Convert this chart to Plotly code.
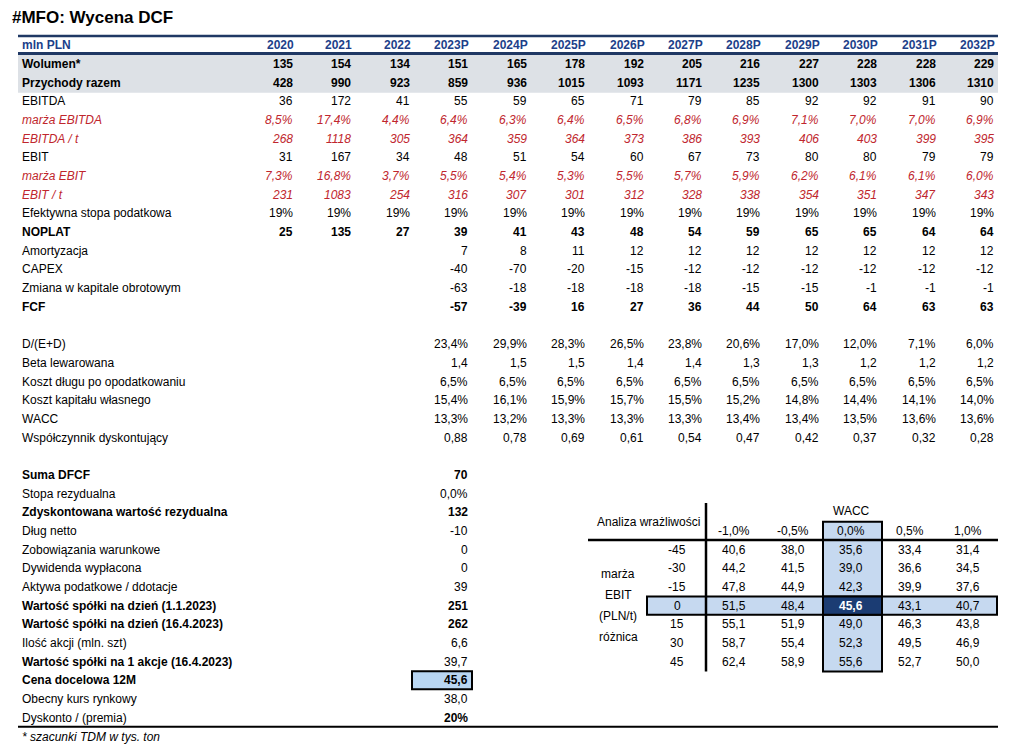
import plotly.graph_objects as go

# ---------------- data ----------------
years = ["2020", "2021", "2022", "2023P", "2024P", "2025P", "2026P", "2027P",
         "2028P", "2029P", "2030P", "2031P", "2032P"]
wolumen = [135, 154, 134, 151, 165, 178, 192, 205, 216, 227, 228, 228, 229]
przychody = [428, 990, 923, 859, 936, 1015, 1093, 1171, 1235, 1300, 1303, 1306, 1310]
ebitda = [36, 172, 41, 55, 59, 65, 71, 79, 85, 92, 92, 91, 90]
marza_ebitda = [8.5, 17.4, 4.4, 6.4, 6.3, 6.4, 6.5, 6.8, 6.9, 7.1, 7.0, 7.0, 6.9]
ebitda_t = [268, 1118, 305, 364, 359, 364, 373, 386, 393, 406, 403, 399, 395]
ebit = [31, 167, 34, 48, 51, 54, 60, 67, 73, 80, 80, 79, 79]
marza_ebit = [7.3, 16.8, 3.7, 5.5, 5.4, 5.3, 5.5, 5.7, 5.9, 6.2, 6.1, 6.1, 6.0]
ebit_t = [231, 1083, 254, 316, 307, 301, 312, 328, 338, 354, 351, 347, 343]
stopa_podatkowa = [19, 19, 19, 19, 19, 19, 19, 19, 19, 19, 19, 19, 19]
noplat = [25, 135, 27, 39, 41, 43, 48, 54, 59, 65, 65, 64, 64]
amortyzacja = [None, None, None, 7, 8, 11, 12, 12, 12, 12, 12, 12, 12]
capex = [None, None, None, -40, -70, -20, -15, -12, -12, -12, -12, -12, -12]
zmiana_ko = [None, None, None, -63, -18, -18, -18, -18, -15, -15, -1, -1, -1]
fcf = [None, None, None, -57, -39, 16, 27, 36, 44, 50, 64, 63, 63]

d_ed = [None, None, None, 23.4, 29.9, 28.3, 26.5, 23.8, 20.6, 17.0, 12.0, 7.1, 6.0]
beta = [None, None, None, 1.4, 1.5, 1.5, 1.4, 1.4, 1.3, 1.3, 1.2, 1.2, 1.2]
koszt_dlugu = [None, None, None, 6.5, 6.5, 6.5, 6.5, 6.5, 6.5, 6.5, 6.5, 6.5, 6.5]
koszt_kapitalu = [None, None, None, 15.4, 16.1, 15.9, 15.7, 15.5, 15.2, 14.8, 14.4, 14.1, 14.0]
wacc = [None, None, None, 13.3, 13.2, 13.3, 13.3, 13.3, 13.4, 13.4, 13.5, 13.6, 13.6]
wsp_dysk = [None, None, None, 0.88, 0.78, 0.69, 0.61, 0.54, 0.47, 0.42, 0.37, 0.32, 0.28]

summary_labels = ["Suma DFCF", "Stopa rezydualna", "Zdyskontowana wartość rezydualna",
                  "Dług netto", "Zobowiązania warunkowe", "Dywidenda wypłacona",
                  "Aktywa podatkowe / ddotacje", "Wartość spółki na dzień (1.1.2023)",
                  "Wartość spółki na dzień (16.4.2023)", "Ilość akcji (mln. szt)",
                  "Wartość spółki na 1 akcje (16.4.2023)", "Cena docelowa 12M",
                  "Obecny kurs rynkowy", "Dyskonto / (premia)"]
summary_values = ["70", "0,0%", "132", "-10", "0", "0", "39", "251", "262", "6,6",
                  "39,7", "45,6", "38,0", "20%"]
summary_label_bold = [1, 0, 1, 0, 0, 0, 0, 1, 1, 0, 1, 1, 0, 0]
summary_value_bold = [1, 0, 1, 0, 0, 0, 0, 1, 1, 0, 0, 1, 0, 1]

sens_wacc = ["-1,0%", "-0,5%", "0,0%", "0,5%", "1,0%"]
sens_ebit = [-45, -30, -15, 0, 15, 30, 45]
sens_values = [
    [40.6, 38.0, 35.6, 33.4, 31.4],
    [44.2, 41.5, 39.0, 36.6, 34.5],
    [47.8, 44.9, 42.3, 39.9, 37.6],
    [51.5, 48.4, 45.6, 43.1, 40.7],
    [55.1, 51.9, 49.0, 46.3, 43.8],
    [58.7, 55.4, 52.3, 49.5, 46.9],
    [62.4, 58.9, 55.6, 52.7, 50.0],
]

# ---------------- style ----------------
FONT = "Liberation Sans, Arial, sans-serif"
NAVY = "#1F3864"
HEAD = "#203F8A"
RED = "#C0262D"
GRAY = "#DDE1E6"
LBLUE = "#C6D9F0"
CBLUE = "#B9D6F2"
DARK = "#1B3C73"

ROW0 = 64.0
STEP = 18.68
COL0 = 293.0
CSTEP = 58.42
LX = 22
PAD = 2


def ry(i):
    return ROW0 + i * STEP


def cx(j):
    return COL0 + j * CSTEP


ann = []
shapes = []


def txt(x, y, s, anchor="left", bold=False, italic=False, color="#000000", size=12):
    if bold:
        s = "<b>" + s + "</b>"
    if italic:
        s = "<i>" + s + "</i>"
    if anchor == "left":
        x = x - PAD
    elif anchor == "right":
        x = x + PAD
    ann.append(dict(x=x, y=y, xref="x", yref="y", text=s, showarrow=False,
                    xanchor=anchor, yanchor="middle",
                    font=dict(family=FONT, size=size, color=color)))


def rect(x0, y0, x1, y1, fill, line=None, lw=0):
    shapes.append(dict(type="rect", xref="x", yref="y", x0=x0, y0=y0, x1=x1, y1=y1,
                       fillcolor=fill, line=dict(color=line or fill, width=lw),
                       layer="below"))


def hline(x0, x1, y, color, w):
    shapes.append(dict(type="line", xref="x", yref="y", x0=x0, x1=x1, y0=y, y1=y,
                       line=dict(color=color, width=w)))


def vline(x, y0, y1, color, w):
    shapes.append(dict(type="line", xref="x", yref="y", x0=x, x1=x, y0=y0, y1=y1,
                       line=dict(color=color, width=w)))


def f_int(v):
    return "" if v is None else f"{v:d}"


def f_pct1(v):
    return "" if v is None else f"{v:.1f}%".replace(".", ",")


def f_pct0(v):
    return "" if v is None else f"{v:d}%"


def f_dec1(v):
    return "" if v is None else f"{v:.1f}".replace(".", ",")


def f_dec2(v):
    return "" if v is None else f"{v:.2f}".replace(".", ",")


# title
txt(12, 17, "#MFO: Wycena DCF", bold=True, size=17)

# header band
hline(18, 998, 36, NAVY, 2.5)
txt(LX, 45, "mln PLN", bold=True, color=HEAD)
for j, yname in enumerate(years):
    txt(cx(j) + 1, 45, yname, anchor="right", bold=True, color=HEAD)
rect(18, 54.5, 998, 92.8, GRAY)
hline(18, 998, 53.6, NAVY, 3)

rows = [
    ("Wolumen*", wolumen, f_int, "bold"),
    ("Przychody razem", przychody, f_int, "bold"),
    ("EBITDA", ebitda, f_int, "normal"),
    ("marża EBITDA", marza_ebitda, f_pct1, "red"),
    ("EBITDA / t", ebitda_t, f_int, "red"),
    ("EBIT", ebit, f_int, "normal"),
    ("marża EBIT", marza_ebit, f_pct1, "red"),
    ("EBIT / t", ebit_t, f_int, "red"),
    ("Efektywna stopa podatkowa", stopa_podatkowa, f_pct0, "normal"),
    ("NOPLAT", noplat, f_int, "bold"),
    ("Amortyzacja", amortyzacja, f_int, "normal"),
    ("CAPEX", capex, f_int, "normal"),
    ("Zmiana w kapitale obrotowym", zmiana_ko, f_int, "normal"),
    ("FCF", fcf, f_int, "bold"),
    None,
    ("D/(E+D)", d_ed, f_pct1, "normal"),
    ("Beta lewarowana", beta, f_dec1, "normal"),
    ("Koszt długu po opodatkowaniu", koszt_dlugu, f_pct1, "normal"),
    ("Koszt kapitału własnego", koszt_kapitalu, f_pct1, "normal"),
    ("WACC", wacc, f_pct1, "normal"),
    ("Współczynnik dyskontujący", wsp_dysk, f_dec2, "normal"),
]

for i, row in enumerate(rows):
    if row is None:
        continue
    label, vals, fmt, style = row
    y = ry(i)
    bold = style == "bold"
    italic = style == "red"
    color = RED if style == "red" else "#000000"
    txt(LX, y, label, bold=bold, italic=italic, color=color)
    for j, v in enumerate(vals):
        s = fmt(v)
        if s:
            txt(cx(j), y, s, anchor="right", bold=bold, italic=italic, color=color)

# summary block
base = 22
for k, lab in enumerate(summary_labels):
    y = ry(base + k)
    txt(LX, y, lab, bold=bool(summary_label_bold[k]))
    txt(cx(3), y, summary_values[k], anchor="right", bold=bool(summary_value_bold[k]))
    if lab.startswith("Cena docelowa"):
        rect(412, y - 9.3, 472, y + 8.7, CBLUE, "#000000", 2)

hline(18, 998, 726.8, "#000000", 2)
txt(LX, 737, "* szacunki TDM w tys. ton", italic=True)

# sensitivity table
sx = [734, 793, 851, 910, 968]
srow0 = 26
txt(648, 522, "Analiza wrażliwości", anchor="center")
txt(sx[2], 511, "WACC", anchor="center")
ctr = sens_wacc.index("0,0%")
rzero = sens_ebit.index(0)
yr = ry(srow0 + rzero)
rect(823, 521.7, 882, 671.5, LBLUE, "#000000", 2)
rect(647, yr - 9.3, 997, yr + 9.0, LBLUE, "#000000", 2)
rect(823, yr - 9.3, 882, yr + 9.0, DARK, "#000000", 2)
vline(706, 503, 671.5, "#000000", 2.5)
hline(588, 998, 540, "#000000", 2.5)

for c, w in enumerate(sens_wacc):
    txt(sx[c], 531, w, anchor="center")
for r, e in enumerate(sens_ebit):
    y = ry(srow0 + r)
    txt(677, y, str(e), anchor="center")
    for c, v in enumerate(sens_values[r]):
        if r == rzero and c == ctr:
            txt(sx[c], y, f_dec1(v), anchor="center", bold=True, color="#FFFFFF")
        else:
            txt(sx[c], y, f_dec1(v), anchor="center")

for k, lab in enumerate(["marża", "EBIT", "(PLN/t)", "różnica"]):
    txt(618, 574 + k * 21, lab, anchor="center")

fig = go.Figure()
fig.add_trace(go.Scatter(x=[0, 1010], y=[0, 748], mode="markers",
                         marker=dict(opacity=0), hoverinfo="skip", showlegend=False))
fig.update_layout(
    width=1010, height=748,
    margin=dict(l=0, r=0, t=0, b=0),
    paper_bgcolor="#FFFFFF", plot_bgcolor="#FFFFFF",
    xaxis=dict(range=[0, 1010], visible=False, fixedrange=True),
    yaxis=dict(range=[748, 0], visible=False, fixedrange=True),
    annotations=ann, shapes=shapes, showlegend=False,
)
fig.write_html("out.html",
               post_script="document.body.style.margin='0px';"
                           "document.body.style.padding='0px';"
                           "document.body.style.overflow='hidden';",
               config={"displayModeBar": False})
